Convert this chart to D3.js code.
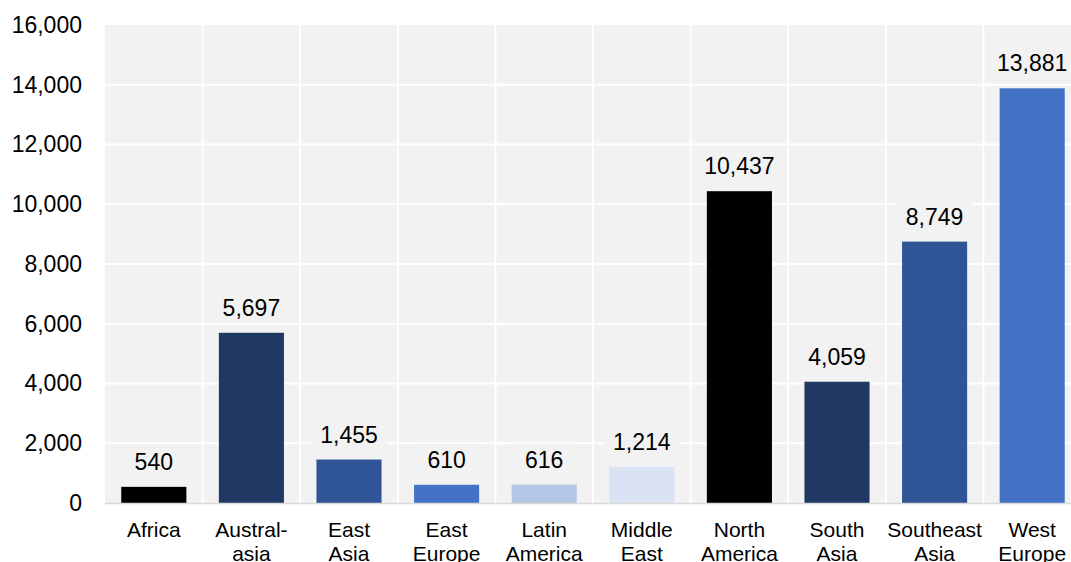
<!DOCTYPE html>
<html>
<head>
<meta charset="utf-8">
<script src="https://cdn.jsdelivr.net/npm/d3@7"></script>
<style>
  body { margin: 0; background: #fff; }
  text { font-family: "Liberation Sans", Arial, sans-serif; fill: #000; }
</style>
</head>
<body>
<div id="chart"></div>
<script>
// data
var regions = ["Africa", "Austral-|asia", "East|Asia", "East|Europe", "Latin|America",
  "Middle|East", "North|America", "South|Asia", "Southeast|Asia", "West|Europe"];
var values = [540, 5697, 1455, 610, 616, 1214, 10437, 4059, 8749, 13881];
var barColors = ["#000000", "#203864", "#2f5597", "#4472c4", "#b4c7e7",
  "#dae3f3", "#000000", "#203864", "#2f5597", "#4472c4"];
var yTicks = [0, 2000, 4000, 6000, 8000, 10000, 12000, 14000, 16000];

var svgWidth = 1071;
var svgHeight = 562;

var margin = { top: 25, right: -10, bottom: 59, left: 105 };
var width = svgWidth - margin.left - margin.right;
var height = svgHeight - margin.top - margin.bottom;

var svg = d3.select("#chart")
  .append("svg")
  .attr("width", svgWidth)
  .attr("height", svgHeight);

var chartGroup = svg.append("g")
  .attr("transform", `translate(${margin.left}, ${margin.top})`);

var xScale = d3.scaleBand()
  .domain(regions)
  .range([0, width])
  .paddingInner(0.333)
  .paddingOuter(0.1665);

var yScale = d3.scaleLinear()
  .domain([0, 16000])
  .range([height, 0]);

var step = xScale.step();

// plot background
chartGroup.append("rect")
  .attr("x", 0)
  .attr("y", 0)
  .attr("width", width)
  .attr("height", height)
  .attr("fill", "#f2f2f2");

// horizontal gridlines
chartGroup.selectAll(".hgrid")
  .data(yTicks.slice(1, -1))
  .enter()
  .append("line")
  .attr("x1", 0)
  .attr("x2", width)
  .attr("y1", d => yScale(d))
  .attr("y2", d => yScale(d))
  .attr("stroke", "#fff")
  .attr("stroke-width", 2);

// vertical gridlines between categories
chartGroup.selectAll(".vgrid")
  .data(regions.slice(1))
  .enter()
  .append("line")
  .attr("x1", d => xScale(d) - xScale.bandwidth() * 0.25)
  .attr("x2", d => xScale(d) - xScale.bandwidth() * 0.25)
  .attr("y1", 0)
  .attr("y2", height)
  .attr("stroke", "#fff")
  .attr("stroke-width", 2);

// y axis labels
var leftAxis = d3.axisLeft(yScale)
  .tickValues(yTicks)
  .tickSize(0)
  .tickPadding(23)
  .tickFormat(d3.format(","));

chartGroup.append("g")
  .call(leftAxis)
  .call(g => g.select(".domain").remove())
  .call(g => g.selectAll("text")
    .attr("font-size", "23px")
    .attr("font-family", "Liberation Sans, Arial, sans-serif")
    .attr("fill", "#000"));

// bars
chartGroup.selectAll(".bar")
  .data(values)
  .enter()
  .append("rect")
  .attr("x", (d, i) => xScale(regions[i]))
  .attr("y", d => yScale(d))
  .attr("width", xScale.bandwidth())
  .attr("height", d => height - yScale(d))
  .attr("fill", (d, i) => barColors[i]);

// baseline
chartGroup.append("line")
  .attr("x1", 0)
  .attr("x2", width)
  .attr("y1", height + 0.5)
  .attr("y2", height + 0.5)
  .attr("stroke", "#d9d9d9")
  .attr("stroke-width", 1.5);

// value labels with background box
var labels = chartGroup.selectAll(".vlabel")
  .data(values)
  .enter()
  .append("g")
  .attr("transform", (d, i) => `translate(${xScale(regions[i]) + xScale.bandwidth() / 2}, ${yScale(d) - 17})`);

labels.append("text")
  .attr("text-anchor", "middle")
  .attr("font-size", "23px")
  .text(d => d3.format(",")(d));

labels.each(function() {
  var g = d3.select(this);
  var bb = g.select("text").node().getBBox();
  g.insert("rect", "text")
    .attr("x", bb.x - 9)
    .attr("y", bb.y - 3)
    .attr("width", bb.width + 18)
    .attr("height", bb.height + 5)
    .attr("fill", "#f2f2f2");
});

// category labels
var catLabels = chartGroup.selectAll(".clabel")
  .data(regions)
  .enter()
  .append("text")
  .attr("text-anchor", "middle")
  .attr("font-size", "21px")
  .attr("transform", d => `translate(${xScale(d) + xScale.bandwidth() / 2}, ${height + 34})`);

catLabels.selectAll("tspan")
  .data(d => d.split("|"))
  .enter()
  .append("tspan")
  .attr("x", 0)
  .attr("y", (d, i) => i * 24)
  .text(d => d);
</script>
</body>
</html>
